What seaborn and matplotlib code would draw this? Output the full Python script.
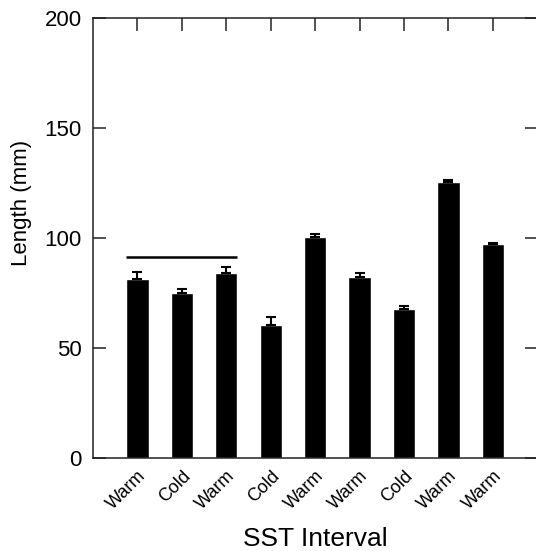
import numpy as np
import pandas as pd
import seaborn as sns
import matplotlib.pyplot as plt

# Data
intervals = ["Warm", "Cold", "Warm", "Cold", "Warm", "Warm", "Cold", "Warm", "Warm"]
length_mm = [81.5, 75.0, 84.3, 60.3, 100.4, 82.5, 67.6, 125.5, 97.1]
length_se = [3.0, 1.6, 2.6, 4.0, 1.5, 1.5, 1.3, 1.0, 0.5]

# bracket line over first three bars
bracket_y = 91.5
bracket_bars = (0, 2)

df = pd.DataFrame({"pos": np.arange(len(intervals)), "interval": intervals,
                   "length": length_mm, "se": length_se})

sns.set_style("ticks")
plt.rcParams['font.family'] = ['Liberation Sans', 'DejaVu Sans']
plt.rcParams['text.color'] = 'black'
plt.rcParams['axes.labelcolor'] = 'black'
plt.rcParams['xtick.labelcolor'] = 'black'
plt.rcParams['ytick.labelcolor'] = 'black'

fig = plt.figure(figsize=(5.36, 5.51), dpi=100)
ax = fig.add_axes([0.1735, 0.1688, 0.829, 0.7985])

sns.barplot(data=df, x="pos", y="length", color="black", width=0.5,
            saturation=1, errorbar=None, ax=ax)
ax.errorbar(df["pos"], df["length"], yerr=[np.zeros(len(df)), df["se"]],
            fmt="none", ecolor="black", elinewidth=1.5, capsize=3.5, capthick=1.5)

# bracket
ax.hlines(bracket_y, bracket_bars[0] - 0.25, bracket_bars[1] + 0.25,
          color="black", linewidth=1.8)

ax.set_xlim(-1, len(intervals))
ax.set_ylim(0, 200)
ax.set_yticks([0, 50, 100, 150, 200])
ax.set_xticks(df["pos"])
ax.set_xticklabels(intervals, rotation=45, ha="right", rotation_mode="anchor",
                   fontsize=13)

for side in ["top", "right", "left", "bottom"]:
    ax.spines[side].set_visible(True)
    ax.spines[side].set_linewidth(1.1)
    ax.spines[side].set_color("#222222")

ax.tick_params(axis="y", which="both", direction="in", length=9, width=1.1,
               labelsize=16, pad=8, right=True, left=True, color="#222222")
ax.tick_params(axis="x", which="both", direction="in", length=0, pad=7,
               top=True)
# top ticks inward
sec = ax.secondary_xaxis("top")
sec.set_xticks(df["pos"])
sec.tick_params(direction="in", length=9.5, width=1.1, labeltop=False, color="#222222")
sec.spines["top"].set_visible(False)

ax.set_xlabel("SST Interval", fontsize=19, labelpad=10)
ax.set_ylabel("Length (mm)", fontsize=16)
ax.yaxis.set_label_coords(-0.137, 0.58)

fig.savefig("out.png", dpi=100)
